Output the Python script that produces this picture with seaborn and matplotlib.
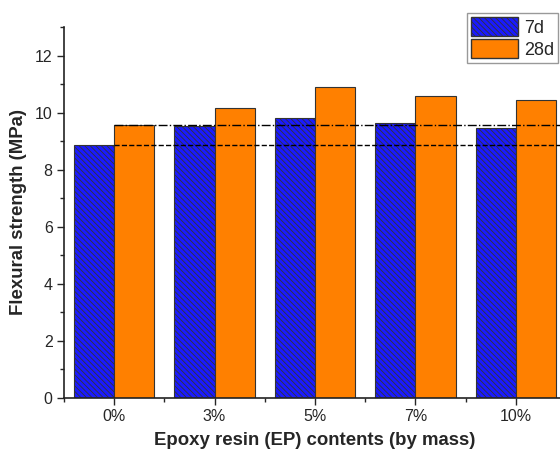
import numpy as np
import pandas as pd
import matplotlib
matplotlib.use("Agg")
import matplotlib.pyplot as plt
import seaborn as sns
from matplotlib.patches import Patch
from matplotlib.ticker import MultipleLocator

# values
contents = ["0%", "3%", "5%", "7%", "10%"]
strength_7d = [8.88, 9.52, 9.83, 9.65, 9.46]
strength_28d = [9.58, 10.16, 10.91, 10.57, 10.43]
ages = ["7d", "28d"]

df = pd.DataFrame({
    "content": contents * 2,
    "age": [ages[0]] * len(contents) + [ages[1]] * len(contents),
    "strength": strength_7d + strength_28d,
})

sns.set_style("ticks")
plt.rcParams["font.family"] = ["Liberation Sans", "DejaVu Sans"]
plt.rcParams["hatch.linewidth"] = 0.6

blue = "#1A1AFF"
orange = "#FF8000"
hatch = "\\" * 6

fig = plt.figure(figsize=(5.6, 4.53), dpi=100)
ax = fig.add_axes([0.114, 0.122, 0.897, 0.818])

sns.barplot(data=df, x="content", y="strength", hue="age",
            palette=[blue, orange], width=0.8, saturation=1,
            edgecolor="#333333", linewidth=0.8, legend=False, ax=ax)

for bar in ax.containers[0]:
    bar.set_hatch(hatch)

# reference lines at the 0% values
ax.plot([0, 5], [strength_28d[0]] * 2, color="black", linestyle="-.", linewidth=1.0, zorder=3)
ax.plot([0, 5], [strength_7d[0]] * 2, color="black", linestyle="--", linewidth=1.0, zorder=3)

ax.set_xlim(-0.5, 4.5)
ax.set_ylim(0, 13)
ax.yaxis.set_major_locator(MultipleLocator(2))
ax.yaxis.set_minor_locator(MultipleLocator(1))
ax.xaxis.set_minor_locator(MultipleLocator(1, offset=0.5))
ax.tick_params(axis="both", which="major", direction="out", length=5, width=1, labelsize=11.5, pad=3)
ax.tick_params(axis="both", which="minor", direction="out", length=3, width=1)

for side in ["top", "right"]:
    ax.spines[side].set_visible(False)
for side in ["left", "bottom"]:
    ax.spines[side].set_linewidth(1.2)
    ax.spines[side].set_color("#222222")

ax.set_xlabel("Epoxy resin (EP) contents (by mass)", fontsize=13.4, fontweight="bold", labelpad=6)
ax.set_ylabel("Flexural strength (MPa)", fontsize=13.4, fontweight="bold", labelpad=6)

handles = [Patch(facecolor=blue, edgecolor="#333333", hatch=hatch, label=ages[0]),
           Patch(facecolor=orange, edgecolor="#333333", label=ages[1])]
fig.legend(handles=handles, loc="upper right", bbox_to_anchor=(0.997, 0.972),
           fontsize=13, frameon=True, fancybox=False, edgecolor="#999999",
           framealpha=1, handlelength=2.6, handleheight=1.3, handletextpad=0.35,
           labelspacing=0.12, borderpad=0.22, borderaxespad=0)

fig.savefig("out.png", dpi=100)
